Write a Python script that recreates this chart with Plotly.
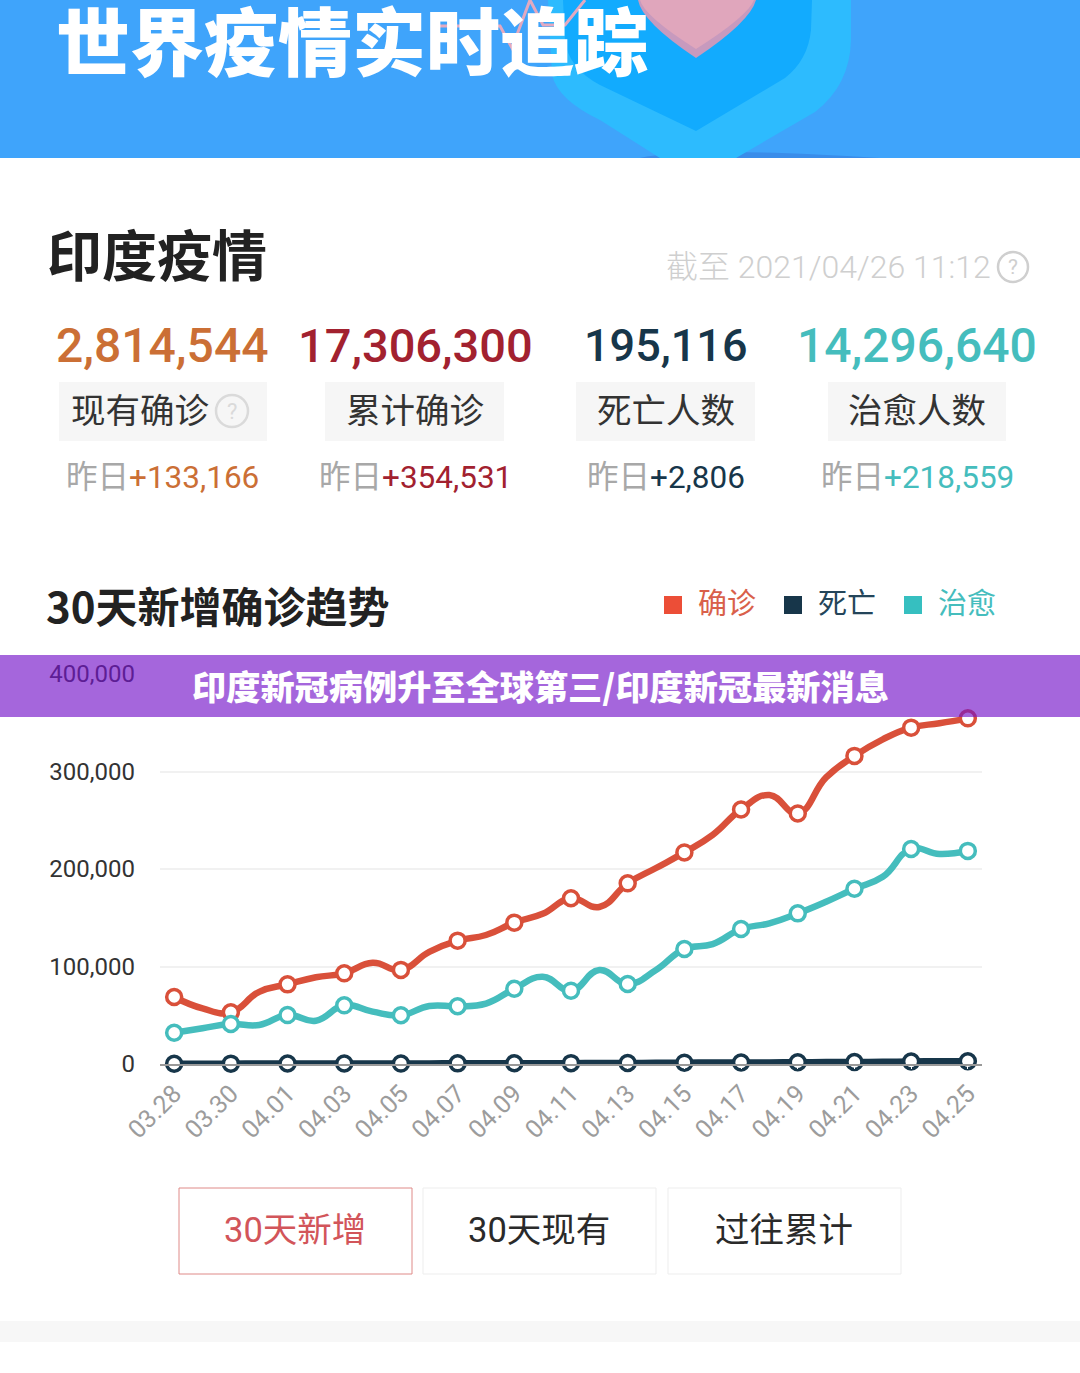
import plotly.graph_objects as go

# chart data
dates = ["03.28", "03.29", "03.30", "03.31", "04.01", "04.02", "04.03", "04.04", "04.05", "04.06",
         "04.07", "04.08", "04.09", "04.10", "04.11", "04.12", "04.13", "04.14", "04.15", "04.16",
         "04.17", "04.18", "04.19", "04.20", "04.21", "04.22", "04.23", "04.24", "04.25"]
confirmed = [68700, 57000, 53000, 74000, 81700, 89000, 93000, 103900, 96500, 115000,
             126500, 132300, 145000, 154000, 170000, 161000, 185300, 201000, 217000, 235000,
             261000, 275900, 257000, 294000, 316000, 333000, 345000, 349500, 354531]
cured = [32100, 36700, 41000, 40000, 50200, 44400, 60200, 53700, 50000, 59500,
         59200, 62000, 77200, 89500, 75200, 96400, 82000, 96400, 118000, 123000,
         138500, 144300, 154500, 166500, 179800, 192000, 220500, 215400, 218559]
deaths = [300, 290, 350, 460, 510, 470, 510, 480, 450, 630,
          680, 780, 790, 840, 880, 1030, 1030, 1190, 1340, 1500,
          1500, 1620, 1760, 2020, 2100, 2260, 2620, 2760, 2806]
y_ticks = [0, 100000, 200000, 300000, 400000]

stat_values = ["2,814,544", "17,306,300", "195,116", "14,296,640"]
stat_names = ["现有确诊", "累计确诊", "死亡人数", "治愈人数"]
stat_deltas = ["+133,166", "+354,531", "+2,806", "+218,559"]
buttons = ["30天新增", "30天现有", "过往累计"]
legend_names = ["确诊", "死亡", "治愈"]

RED, DARK, TEAL = "#D9503A", "#17364A", "#45BDBD"
FONT = "Roboto, 'Noto Sans CJK SC', sans-serif"
CJK = "'Noto Sans CJK SC', sans-serif"

# plot area in page pixels, everything else on the page is placed relative to it
# top is one pixel above the 400,000 line so that gridline still gets drawn
L, R, T, B = 160, 982, 673, 1064
def px(x):
    return (x - L) / (R - L)
def py(y):
    return (B - y) / (B - T)

fig = go.Figure()
marker_sizes = [15 if i % 2 == 0 else 0 for i in range(len(dates))]
for values, color, name in [(confirmed, RED, "确诊"), (cured, TEAL, "治愈"), (deaths, DARK, "死亡")]:
    fig.add_trace(go.Scatter(x=dates, y=values, name=name, mode="lines+markers", cliponaxis=False,
                             line=dict(color=color, width=6.5, shape="spline", smoothing=1.3),
                             marker=dict(size=marker_sizes, color="white", line=dict(color=color, width=3.5), opacity=1)))

def rect(x0, y0, x1, y1, fill, line=None, layer="below", opacity=1):
    fig.add_shape(type="rect", xref="paper", yref="paper", x0=px(x0), x1=px(x1), y0=py(y1), y1=py(y0),
                  fillcolor=fill, line=dict(color=line or fill, width=1 if line else 0), layer=layer, opacity=opacity)

def path(cmds, fill="rgba(0,0,0,0)", line=None, width=0, layer="below", opacity=1):
    # cmds: svg letters with page pixel points
    s = ""
    for c in cmds:
        if isinstance(c, str):
            s += c + " "
        else:
            s += f"{px(c[0]):.5f},{py(c[1]):.5f} "
    fig.add_shape(type="path", xref="paper", yref="paper", path=s, fillcolor=fill, layer=layer, opacity=opacity,
                  line=dict(color=line or fill, width=width))

def text(x, y, s, size, color, anchor="center", weight=400, family=FONT, opacity=1):
    fig.add_annotation(xref="paper", yref="paper", x=px(x), y=py(y), text=s, showarrow=False, xanchor=anchor,
                       yanchor="middle", opacity=opacity, font=dict(size=size, color=color, family=family, weight=weight))

# top banner
rect(0, 0, 1080, 158, "#3FA4FB")
path(["M", (640, 158), "Q", (690, 146), (880, 158), "Z"], fill="#3A8DEA")
path(["M", (548, 0), "L", (552, 75), "Q", (558, 100), (600, 120), "L", (660, 158), "L", (736, 158), "L", (815, 112),
      "Q", (850, 85), (851, 40), "L", (851, 0), "Z"], fill="#2DBBFE")
path(["M", (563, 0), "L", (565, 40), "Q", (568, 68), (600, 85), "L", (696, 131), "L", (785, 78),
      "Q", (808, 60), (811, 30), "L", (812, 0), "Z"], fill="#12ABFE")
path(["M", (440, 26), "L", (500, 26), "L", (512, 48), "L", (530, 0), "L", (543, 25), "L", (565, 25), "L", (585, 0)],
     line="#E3A9C0", width=3)
path(["M", (638, 0), "Q", (642, 22), (696, 58), "Q", (750, 22), (756, 0), "Z"], fill="#C79ABE")
path(["M", (640, 0), "Q", (644, 16), (696, 49), "Q", (748, 16), (754, 0), "Z"], fill="#E0A6BC")
text(352, 44, "世界疫情实时追踪", 74, "white", weight=900)

# summary block
text(45, 252, "印度疫情", 55, "#222222", anchor="left", weight=700, family=CJK)
text(993, 267, "截至 2021/04/26 11:12", 32, "#CFCFCF", anchor="right", weight=300)
fig.add_shape(type="circle", xref="paper", yref="paper", x0=px(998), x1=px(1028), y0=py(282), y1=py(252),
              line=dict(color="#CFCFCF", width=2.5), layer="below")
text(1013, 267, "?", 21, "#CFCFCF")

stat_centers = [162, 415, 666, 917]
stat_sizes = [48, 47, 45, 48]
box_edges = [(59, 267), (325, 504), (576, 755), (828, 1006)]
stat_colors = ["#CB6F35", "#A2212F", "#17364A", "#45BDBD"]
for i in range(4):
    text(stat_centers[i], 345, stat_values[i], stat_sizes[i], stat_colors[i], weight=500)
    rect(box_edges[i][0], 382, box_edges[i][1], 441, "#F6F6F6")
    name_x = 140 if i == 0 else sum(box_edges[i]) / 2
    text(name_x, 408, stat_names[i], 34.5, "#333333", family=CJK, weight=400)
    text(stat_centers[i], 477, f"<span style='color:#A8A8A8'>昨日</span>{stat_deltas[i]}", 31.5, stat_colors[i])
fig.add_shape(type="circle", xref="paper", yref="paper", x0=px(216), x1=px(248), y0=py(427), y1=py(395),
              line=dict(color="#DADADA", width=2.5), layer="below")
text(232, 411, "?", 22, "#DADADA")

# chart title and legend
text(44, 604, "30天新增确诊趋势", 42, "#222222", anchor="left", weight=700, family=CJK)
legend_squares = [664, 784, 904]
legend_colors = ["#EC4E37", "#17364A", "#36BFC0"]
legend_text = ["#D9604A", "#24455A", "#45BDBD"]
for i in range(3):
    rect(legend_squares[i], 596, legend_squares[i] + 18, 614, legend_colors[i])
    text(legend_squares[i] + 32, 601, legend_names[i], 29, legend_text[i], anchor="left", family=CJK, weight=400)

# purple strip sits over the chart, 400,000 shows through it
rect(0, 655, 1080, 717, "#7414C9", layer="above", opacity=0.65)
text(540, 685, "印度新冠病例升至全球第三/印度新冠最新消息", 34.2, "white", weight=900, family=CJK)

# buttons and footer band
btn_edges = [(179, 412), (423, 656), (668, 901)]
for i in range(3):
    active = i == 0
    rect(btn_edges[i][0], 1188, btn_edges[i][1], 1274, "white", line="#DF8A88" if active else "#EDEDED")
    text(sum(btn_edges[i]) / 2 - 1, 1230, buttons[i], 34.5, "#D2555A" if active else "#2A2A2A", family=FONT, weight=400)
rect(0, 1321, 1080, 1342, "#F7F7F7")

fig.update_layout(
    width=1080, height=1373,
    margin=dict(l=L, r=1080 - R, t=T, b=1373 - B),
    paper_bgcolor="white", plot_bgcolor="white",
    showlegend=False, hovermode=False, font=dict(family=FONT),
)
fig.update_xaxes(type="category", range=[-0.5, 28.5], tickmode="array", tickvals=dates[::2], ticktext=dates[::2],
                 tickangle=-45, tickfont=dict(size=25, color="#9C9C9C"), ticks="outside", ticklen=3, tickcolor="white",
                 showgrid=False, showline=True, linecolor="#999999", linewidth=2, zeroline=False)
fig.update_yaxes(range=[0, 400000 * (B - T) / 390], tickmode="array", tickvals=y_ticks, tickformat=",d", ticks="", ticklabelstandoff=24,
                 tickfont=dict(size=24, color="#333333"), gridcolor="#F1F1F1", gridwidth=2, zeroline=False, showline=False)

fig.write_html("out.html", config=dict(displayModeBar=False),
               post_script="document.body.style.margin='0';document.body.style.overflow='hidden';")
